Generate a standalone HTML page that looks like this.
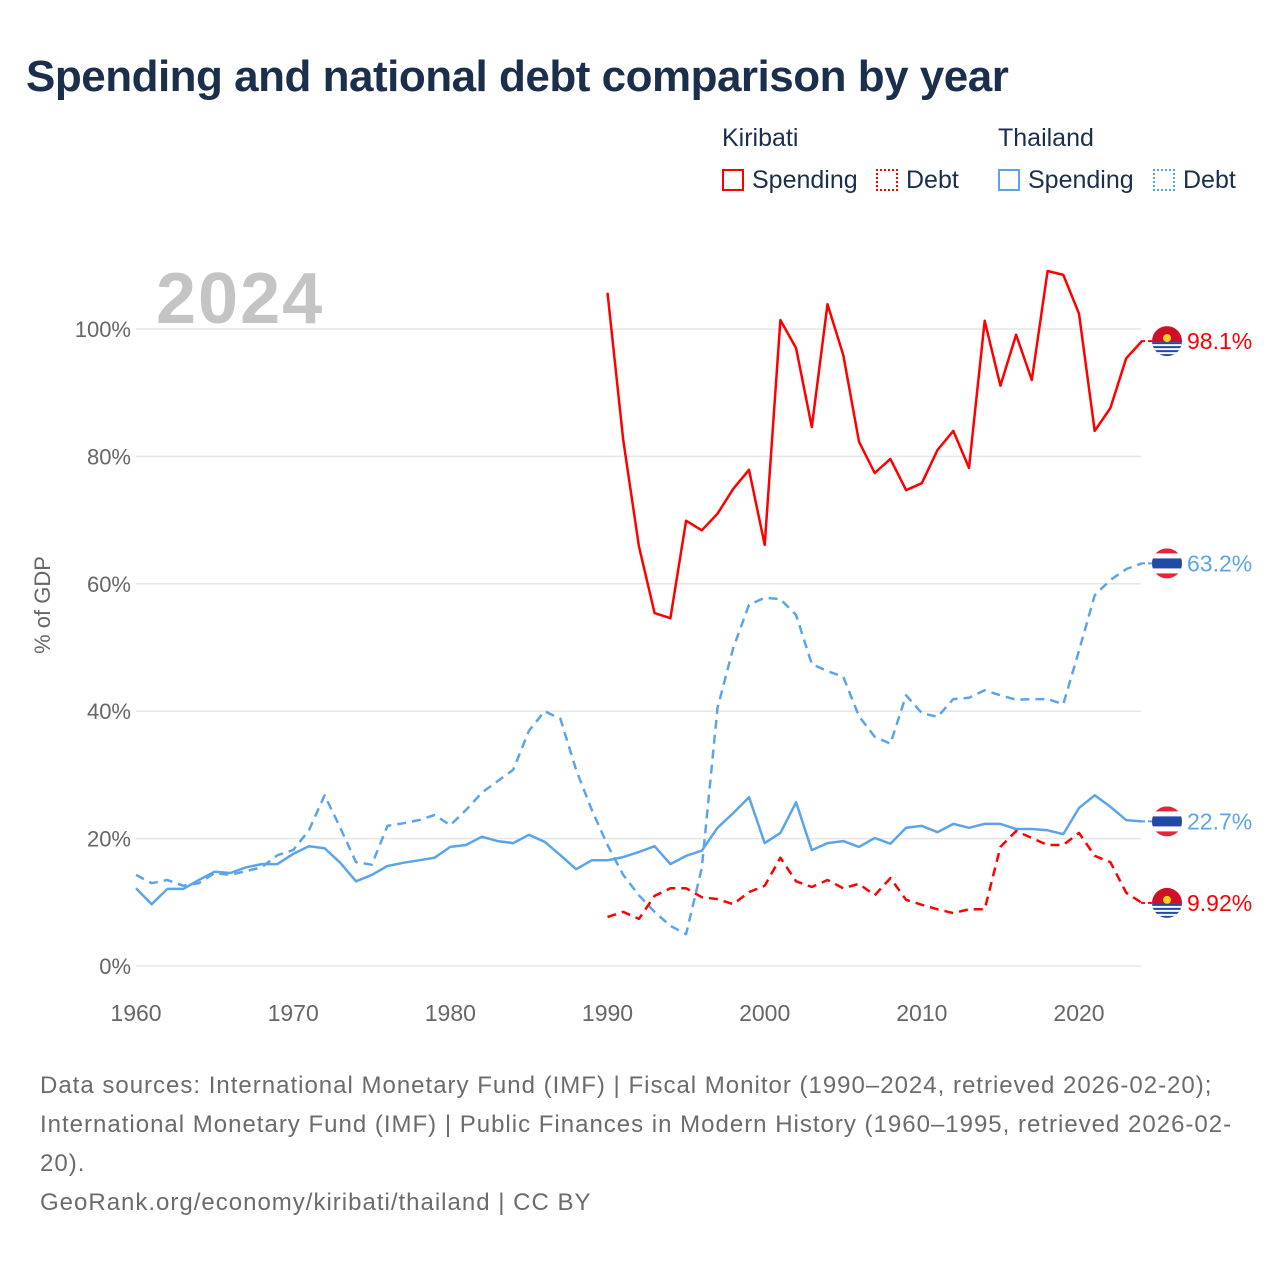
<!DOCTYPE html>
<html><head><meta charset="utf-8"><style>
body{margin:0;background:#fff;font-family:"Liberation Sans",sans-serif}
#wrap{position:relative;width:1280px;height:1280px;overflow:hidden}
.t{position:absolute;white-space:nowrap}
</style></head><body>
<div id="wrap">
<div class="t" style="left:26px;top:52px;font-size:44px;font-weight:bold;color:#1b2f4d;letter-spacing:-0.5px">Spending and national debt comparison by year</div>
<div class="t" style="left:722px;top:124px;font-size:25px;color:#1b2f4d">Kiribati</div>
<div class="t" style="left:998px;top:124px;font-size:25px;color:#1b2f4d">Thailand</div>
<div class="t" style="left:722px;top:166px;font-size:25px;color:#1b2f4d"><span style="display:inline-block;width:22px;height:22px;border:2px solid #f00;box-sizing:border-box;vertical-align:-3px;margin-right:8px"></span>Spending</div>
<div class="t" style="left:876px;top:166px;font-size:25px;color:#1b2f4d"><span style="display:inline-block;width:22px;height:22px;border:2px dotted #f00;box-sizing:border-box;vertical-align:-3px;margin-right:8px"></span>Debt</div>
<div class="t" style="left:998px;top:166px;font-size:25px;color:#1b2f4d"><span style="display:inline-block;width:22px;height:22px;border:2px solid #5ba4ea;box-sizing:border-box;vertical-align:-3px;margin-right:8px"></span>Spending</div>
<div class="t" style="left:1153px;top:166px;font-size:25px;color:#1b2f4d"><span style="display:inline-block;width:22px;height:22px;border:2px dotted #5ba4ea;box-sizing:border-box;vertical-align:-3px;margin-right:8px"></span>Debt</div>
<svg id="chart" width="1280" height="1280" style="position:absolute;left:0;top:0"></svg>
<div class="t" style="left:40px;top:1066px;font-size:24px;line-height:39px;color:#6b6b6b;letter-spacing:1px">Data sources: International Monetary Fund (IMF) | Fiscal Monitor (1990–2024, retrieved 2026-02-20);<br>International Monetary Fund (IMF) | Public Finances in Modern History (1960–1995, retrieved 2026-02-<br>20).<br>GeoRank.org/economy/kiribati/thailand | CC BY</div>
</div>
<script>
const thSpendYears0 = 1960;
const thSpending = [12.2,9.7,12.1,12.1,13.5,14.8,14.6,15.5,16.0,16.0,17.6,18.8,18.5,16.2,13.3,14.3,15.7,16.2,16.6,17.0,18.7,19.0,20.3,19.6,19.3,20.6,19.5,17.4,15.2,16.6,16.6,17.1,17.9,18.8,16.0,17.3,18.1,21.7,24.0,26.5,19.3,20.9,25.7,18.2,19.3,19.6,18.7,20.1,19.2,21.7,22.0,21.0,22.3,21.7,22.3,22.3,21.5,21.5,21.3,20.7,24.8,26.8,25.0,22.9,22.7];
const thDebt = [14.3,13.0,13.5,12.6,13.0,14.6,14.3,14.9,15.5,17.4,18.2,21.3,26.8,21.7,16.3,15.9,22.0,22.4,22.9,23.7,22.1,24.5,27.2,29.0,30.8,36.9,40.0,38.8,30.8,24.5,19.0,14.3,11.1,8.5,6.3,5.0,15.4,40.5,49.9,56.7,57.8,57.6,55.1,47.4,46.3,45.4,39.2,36.0,34.9,42.5,39.7,39.1,41.9,42.1,43.3,42.5,41.8,41.9,41.9,41.1,49.5,58.2,60.6,62.3,63.2];
const kiStartYear = 1990;
const kiSpending = [105.7,82.6,65.9,55.4,54.6,69.9,68.4,71.0,74.9,77.9,66.1,101.4,97.0,84.6,103.9,95.9,82.3,77.4,79.6,74.7,75.8,81.0,84.0,78.2,101.3,91.1,99.1,92.0,109.1,108.5,102.4,84.0,87.6,95.4,98.1];
const kiDebt = [7.7,8.5,7.4,11.0,12.2,12.2,10.8,10.5,9.7,11.6,12.6,17.0,13.3,12.4,13.5,12.2,12.9,11.1,13.8,10.4,9.6,8.9,8.3,8.9,8.9,18.7,21.2,20.1,19.0,19.0,20.9,17.3,16.3,11.5,9.9];
const yTicks = [0,20,40,60,80,100];
const xTicks = [1960,1970,1980,1990,2000,2010,2020];
const endLabels = ["98.1%","63.2%","22.7%","9.92%"];

const NS="http://www.w3.org/2000/svg";
const svg=document.getElementById('chart');
const X=y=>136+(y-1960)*(943/60);
const Y=v=>966-v*6.37;
function mk(tag,attrs){const e=document.createElementNS(NS,tag);for(const k in attrs)e.setAttribute(k,attrs[k]);svg.appendChild(e);return e;}
yTicks.forEach(t=>{
  const g=mk('line',{x1:136,x2:1141,y1:Y(t),y2:Y(t),stroke:'#e6e6e6','stroke-width':1.5});
  
  
  const l=mk('text',{x:131,y:Y(t)+8,'text-anchor':'end','font-size':22,fill:'#666','font-family':'Liberation Sans, sans-serif'});
  l.textContent=t+'%';
  
  
});
xTicks.forEach(t=>{
  const l=mk('text',{x:X(t),y:1021,'text-anchor':'middle','font-size':23,fill:'#666','font-family':'Liberation Sans, sans-serif'});
  l.textContent=t;
  
  
});
const yt=mk('text',{x:0,y:0,transform:'translate(50,605) rotate(-90)','text-anchor':'middle','font-size':22,fill:'#666','font-family':'Liberation Sans, sans-serif'});
yt.textContent='% of GDP';


const yr=mk('text',{x:156,y:323,'font-size':72,'font-weight':'bold',fill:'#c4c4c4','letter-spacing':2,'font-family':'Liberation Sans, sans-serif'});
yr.textContent='2024';


function series(arr,start,color,dash,name){
  const pts=arr.map((v,i)=>X(start+i).toFixed(1)+','+Y(v).toFixed(1)).join(' ');
  const p=mk('polyline',{points:pts,fill:'none',stroke:color,'stroke-width':2.5,'stroke-linejoin':'round'});
  if(dash)p.setAttribute('stroke-dasharray','9,6');
  
  
  const last=arr[arr.length-1];
  return Y(last);
}
const c1=series(thDebt,thSpendYears0,'#5ba4ea',true,'thailand-debt-line');
const c2=series(thSpending,thSpendYears0,'#5ba4ea',false,'thailand-spending-line');
const c3=series(kiDebt,kiStartYear,'#f00',true,'kiribati-debt-line');
const c4=series(kiSpending,kiStartYear,'#f00',false,'kiribati-spending-line');
const ends=[[c4,'#f00','ki',endLabels[0]],[c1,'#5ba4ea','th',endLabels[1]],[c2,'#5ba4ea','th',endLabels[2]],[c3,'#f00','ki',endLabels[3]]];
ends.forEach(([y,col,flag,txt])=>{
  const cx=1167;
  const ln=mk('line',{x1:1141,x2:cx,y1:y,y2:y,stroke:col,'stroke-width':2,'stroke-dasharray':'4,3'});
  
  
  const g=document.createElementNS(NS,'g');svg.appendChild(g);
  
  
  const cp='clip'+Math.round(y);
  g.innerHTML=flag==='th'
   ?`<clipPath id="${cp}"><circle cx="${cx}" cy="${y}" r="15"/></clipPath><g clip-path="url(#${cp})"><rect x="${cx-15}" y="${y-15}" width="30" height="30" fill="#e5243b"/><rect x="${cx-15}" y="${y-10}" width="30" height="20" fill="#fff"/><rect x="${cx-15}" y="${y-5}" width="30" height="10" fill="#1f4aa6"/></g>`
   :`<clipPath id="${cp}"><circle cx="${cx}" cy="${y}" r="15"/></clipPath><g clip-path="url(#${cp})"><rect x="${cx-15}" y="${y-15}" width="30" height="16" fill="#ce1126"/><circle cx="${cx}" cy="${y-3}" r="4" fill="#fcd116"/><rect x="${cx-15}" y="${y+1}" width="30" height="14" fill="#1f4aa6"/><path d="M${cx-15} ${y+4}h30M${cx-15} ${y+8}h30M${cx-15} ${y+12}h30" stroke="#fff" stroke-width="2"/></g>`;
  const t=mk('text',{x:1187,y:y+8,'font-size':23,fill:col,'font-family':'Liberation Sans, sans-serif'});
  t.textContent=txt;
  
  
});
</script>
</body></html>
